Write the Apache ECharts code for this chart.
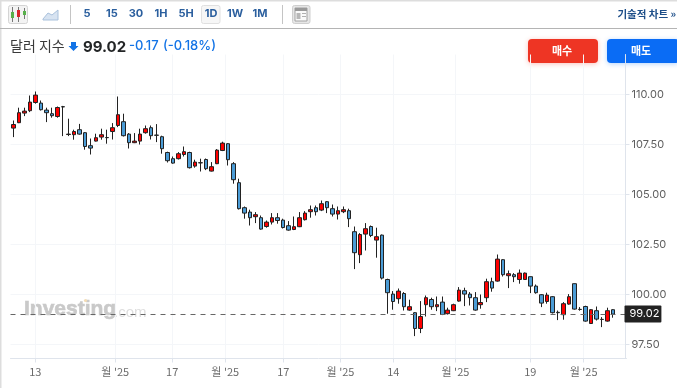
<!DOCTYPE html>
<html><head><meta charset="utf-8">
<style>html,body{margin:0;padding:0;background:#fff}#c{width:677px;height:388px}</style>
<script src="https://cdn.jsdelivr.net/npm/echarts@6/dist/echarts.min.js"></script></head>
<body><div id="c"></div>
<script>
const opens=[108.32,108.59,109.07,109.19,109.6,109.57,109.22,109.04,108.9,109.39,108.0,107.99,108.24,108.09,107.44,107.67,107.87,107.85,108.15,108.45,108.64,108.02,107.59,107.67,108.09,108.34,107.97,107.89,107.1,106.79,106.79,107.0,107.1,106.42,106.59,106.75,106.17,106.54,107.2,107.54,106.54,105.59,104.34,104.12,103.89,103.84,103.4,103.62,103.84,103.72,103.44,103.25,103.39,103.74,104.14,104.34,104.22,104.64,104.29,104.02,104.14,104.19,103.14,101.99,103.02,103.4,102.72,102.97,100.75,100.02,99.79,100.05,99.22,99.09,98.3,99.49,99.75,99.39,99.62,99.04,99.19,99.67,100.19,100.02,99.84,99.49,99.84,100.64,100.67,101.74,100.94,100.99,100.75,100.75,100.89,100.42,99.99,99.65,99.89,99.11,98.99,99.52,100.54,99.26,99.4,98.55,99.19,98.76,98.67,99.24];
const closes=[108.5,109.09,109.17,109.62,109.97,109.24,109.09,108.94,109.35,109.38,108.02,108.15,108.02,107.4,107.32,107.84,107.99,107.84,108.34,108.99,107.94,107.59,107.67,108.02,108.29,107.94,107.96,107.29,106.69,106.57,107.04,107.14,106.34,106.62,106.58,106.29,106.39,107.22,107.57,106.74,105.74,104.29,104.07,103.84,103.99,103.27,103.62,103.84,103.7,103.35,103.22,103.39,103.84,104.07,104.24,104.14,104.54,104.34,104.02,104.19,104.24,103.79,102.09,103.0,103.29,102.95,102.89,100.82,100.09,99.65,100.17,99.39,99.39,98.3,98.9,99.84,99.39,99.49,99.0,99.22,99.49,100.22,100.02,99.84,99.22,99.6,100.64,100.32,101.77,100.99,101.04,100.89,101.07,101.07,100.42,100.09,99.57,99.97,99.09,99.09,99.54,99.89,99.27,99.25,98.67,99.24,98.77,98.75,99.19,99.02];
const lows=[107.87,108.57,108.92,109.12,109.54,109.2,108.62,108.84,108.84,107.92,107.92,107.74,107.99,107.24,107.0,107.65,107.74,107.54,107.75,108.37,107.9,107.3,107.57,107.5,108.04,107.75,107.62,107.04,106.6,106.54,106.75,106.9,106.3,106.34,106.15,106.22,106.15,106.52,107.17,106.45,105.54,104.25,103.79,103.45,103.57,103.24,103.34,103.5,103.54,103.3,103.19,103.22,103.37,103.7,103.84,103.95,104.17,104.07,103.9,103.75,104.07,103.37,101.27,101.57,102.2,102.87,101.84,100.75,99.04,99.24,99.54,99.2,99.19,97.92,98.07,98.9,99.24,99.17,98.97,99.0,99.17,99.64,99.42,99.45,99.19,99.29,99.62,100.14,100.64,100.9,100.32,100.62,100.54,100.74,100.07,100.04,99.37,99.54,99.05,98.72,98.74,99.49,99.24,99.19,98.64,98.54,98.7,98.37,98.64,98.84];
const highs=[108.7,109.34,109.34,109.95,110.15,109.7,109.34,109.34,109.4,109.43,108.79,108.24,108.53,108.12,107.8,108.04,108.29,108.24,108.57,109.9,109.04,108.07,108.07,108.29,108.45,108.45,108.52,107.94,107.14,106.9,107.12,107.4,107.14,106.74,106.79,106.8,106.62,107.27,107.64,107.57,106.62,105.79,104.4,104.24,104.12,103.95,103.7,104.07,104.07,103.79,103.67,103.9,104.12,104.17,104.45,104.45,104.7,104.67,104.5,104.4,104.4,104.29,103.4,103.07,103.57,103.45,103.34,103.0,100.79,100.17,100.3,100.12,99.74,99.12,99.67,99.95,99.84,99.9,99.9,99.34,99.54,100.37,100.34,100.12,100.12,100.0,100.79,100.84,102.0,101.77,101.2,101.07,101.25,101.1,100.9,100.5,100.02,100.09,99.92,99.2,99.62,100.02,100.55,99.37,99.44,99.27,99.4,98.87,99.34,99.27];
const emptySlots=2;
const priceTicks=[97.5,100,102.5,105,107.5,110];
const lastPrice=99.02;
const timeTickPos=[4,18.55,28.9,38.55,49.1,59.5,69.1,80.4,94,103.7];
const timeTickLabels=['13',"월 '25",'17',"월 '25",'17',"월 '25",'14',"월 '25",'19',"월 '25"];
const periods=['5','15','30','1H','5H','1D','1W','1M'];
const periodX=[87,112,136,161,186,211,235,260];

const FONT='Inter,"Noto Sans CJK KR",sans-serif';
const KR='"Noto Sans CJK KR",Inter,sans-serif';
const cats=opens.map((_,i)=>String(i)).concat(Array.from({length:emptySlots},(_,i)=>'e'+i));
const candles=opens.map((o,i)=>[o,closes[i],lows[i],highs[i]]);
const txt=(x,y,text,fontSize,fill,weight,align,family)=>({type:'text',silent:true,x,y,style:{text,fontSize,fill,fontWeight:weight||'normal',align:align||'left',verticalAlign:'middle',fontFamily:family||FONT}});
const rect=(x,y,w,h,fill,extra)=>({type:'rect',silent:true,shape:{x,y,width:w,height:h,r:(extra&&extra.r)||0},style:Object.assign({fill},extra&&extra.style||{}),z:(extra&&extra.z)||0});

const gfx=[
 rect(0,0,677,1.5,'#dddddd'),
 rect(0,0,1.5,388,'#dddddd'),
 rect(0,28,677,1,'#b4b4b4'),
 rect(8.5,5.5,19,18,'#f3f3f3',{r:2,style:{stroke:'#d4d4d4',lineWidth:1}}),
 rect(12,7,1,15,'#777'),rect(18,7,1,15,'#777'),rect(24,8,1,11,'#777'),
 rect(11,12,3,6,'#58b04a'),rect(17,10,3,7,'#d8262c'),rect(23,11,3,4,'#58b04a'),
 {type:'polygon',silent:true,shape:{points:[[43,19],[48,13],[52,15],[58,10],[58,20],[43,20]]},style:{fill:'#d7e3f1',stroke:'#a9c1dc',lineWidth:1}},
 rect(70,5,1,19,'#c4c4c4'),
 rect(201.5,5.5,18.5,18,'#f6f6f6',{r:2,style:{stroke:'#e0e0e0',lineWidth:1}}),
 rect(282,5,1,19,'#c4c4c4'),
 rect(292.5,5.5,17.5,18,'#e6e6e6',{r:2,style:{stroke:'#cfcfcf',lineWidth:1}}),
 rect(295,8,12,13,'#fafafa',{style:{stroke:'#a2a2a2',lineWidth:1}}),
 rect(295,8,12,3,'#9a9a9a'),rect(296.5,13,4,6,'#b8b8b8'),rect(302,13,4,1,'#b0b0b0'),rect(302,16,4,1,'#b0b0b0'),
 txt(676,14,'기술적 차트 »',10.5,'#1d4e89','bold','right',KR),
 txt(10,46,'달러 지수',14,'#3a3a3a','normal','left',KR),
 {type:'polygon',silent:true,shape:{points:[[71,42],[76,42],[76,46],[78.5,46],[73.5,51],[68.5,46],[71,46]]},style:{fill:'#1273e6'}},
 txt(83,47,String(lastPrice.toFixed(2)),15,'#232526','bold'),
 txt(129,46,'-0.17',13,'#1273e6','500'),
 txt(163,46,'(-0.18%)',13,'#1273e6','500'),
 rect(528,39,70,24,'#ee3524',{r:4,style:{shadowBlur:5,shadowColor:'rgba(238,53,36,0.3)',shadowOffsetY:1}}),
 rect(607,39,72,24,'#0a6cf5',{r:4,style:{shadowBlur:5,shadowColor:'rgba(10,108,245,0.3)',shadowOffsetY:1}}),
 Object.assign(txt(562,51,'매수',11,'#ffffff','bold','center',KR),{z:2}),
 Object.assign(txt(641,51,'매도',11,'#ffffff','bold','center',KR),{z:2}),
 {type:'text',silent:true,x:24,y:309,z:-1,style:{text:'Investing',fontSize:21,fontWeight:'bold',fill:'#c9c9c9',stroke:'#c9c9c9',lineWidth:0.6,verticalAlign:'middle',fontFamily:'"Liberation Sans",Arial,sans-serif',letterSpacing:-1}},
 {type:'circle',silent:true,shape:{cx:85.5,cy:300.5,r:1.6},z:-1,style:{fill:'#f3dcb5'}},
 {type:'text',silent:true,x:114,y:313,z:-1,style:{text:'.com',fontSize:15,fill:'#dedede',verticalAlign:'middle',fontFamily:'"Liberation Sans",Arial,sans-serif'}}
];
periods.forEach((p,i)=>gfx.push(Object.assign(txt(periodX[i],14,p,11,'#2b5f9e','bold','center'),{z:3})));

const chart=echarts.init(document.getElementById('c'),null,{renderer:'canvas'});
chart.setOption({
 animation:false,
 backgroundColor:'#ffffff',
 graphic:{elements:gfx},
 grid:{left:10.5,width:616,top:54.5,height:304,containLabel:false},
 xAxis:[
  {type:'category',data:cats,boundaryGap:true,axisLine:{show:false},axisTick:{show:false},axisLabel:{show:false},splitLine:{show:false}},
  {type:'value',position:'bottom',min:-0.5,max:cats.length-0.5,
   axisLine:{show:true,onZero:false,lineStyle:{color:'#dfe4ec',width:1}},
   axisTick:{show:true,length:4,lineStyle:{color:'#dfe4ec'},customValues:timeTickPos},
   axisLabel:{show:true,color:'#6b6b6b',fontSize:11,margin:8,fontFamily:KR,customValues:timeTickPos,
     showMinLabel:true,showMaxLabel:true,hideOverlap:false,
     formatter:v=>{const i=timeTickPos.indexOf(v);return i>=0?timeTickLabels[i]:''}},
   splitLine:{show:true,lineStyle:{color:'#f4f6f9',width:1},customValues:timeTickPos}}
 ],
 yAxis:[{type:'value',position:'right',offset:-1,min:96.8,max:112,scale:true,
   axisLine:{show:true,onZero:false,lineStyle:{color:'#dfe4ec',width:1}},
   axisTick:{show:true,length:4,lineStyle:{color:'#dfe4ec'},customValues:priceTicks},
   axisLabel:{show:true,color:'#5f5f5f',fontSize:11,margin:6,fontFamily:FONT,customValues:priceTicks,
     formatter:v=>v.toFixed(2)},
   splitLine:{show:true,lineStyle:{color:'#f4f6f9',width:1},customValues:priceTicks}}],
 series:[{type:'candlestick',xAxisIndex:0,yAxisIndex:0,data:candles,barWidth:4,clip:false,
   itemStyle:{color:'#ff0000',color0:'#4b9cd6',borderColor:'#222222',borderColor0:'#222222',borderWidth:1},
   markLine:{silent:true,symbol:'none',animation:false,
     lineStyle:{color:'#666666',type:[5,5],width:1},
     label:{show:true,position:'end',distance:-2,formatter:p=>p.value.toFixed(2),backgroundColor:'#222222',color:'#ffffff',
       fontSize:11,fontFamily:FONT,padding:[3,2,3,5],borderRadius:1},
     data:[{yAxis:lastPrice}]}}]
});
</script></body></html>
